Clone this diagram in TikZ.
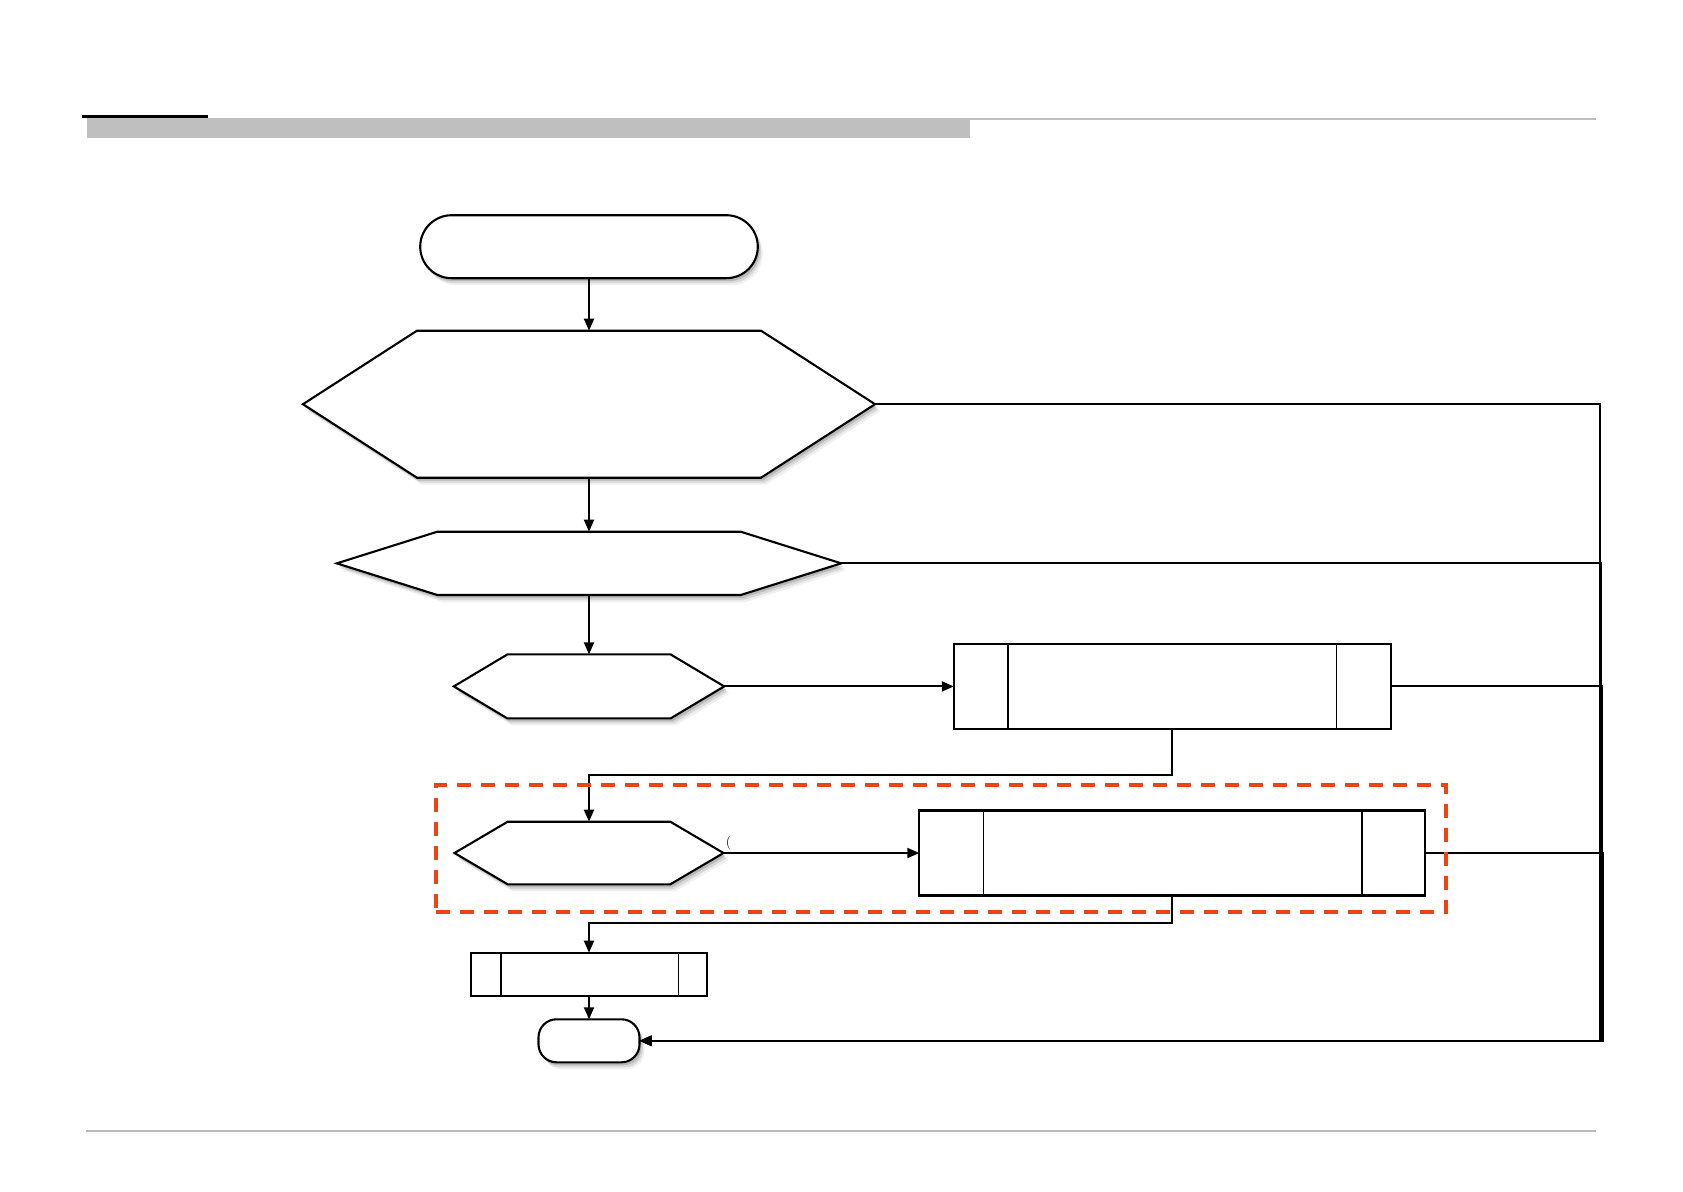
\documentclass[tikz,border=0pt]{standalone}
\usetikzlibrary{arrows.meta,calc,shadows}
\definecolor{dashred}{RGB}{238,68,20}
\definecolor{hdrgray}{RGB}{191,191,191}
\definecolor{ftrgray}{RGB}{185,185,185}
\tikzset{
  outl/.style={draw=black, line width=2.1pt, fill=white, line join=miter, inner sep=0pt, outer sep=0pt},
  shad/.style={
    drop shadow={shadow xshift=2pt, shadow yshift=-3pt, opacity=0.14, fill=black},
    drop shadow={shadow xshift=3.5pt, shadow yshift=-5pt, opacity=0.10, fill=black},
    drop shadow={shadow xshift=5pt, shadow yshift=-7pt, opacity=0.06, fill=black}},
  conn/.style={draw=black, line width=1.9pt},
  arr/.style={conn, -{Triangle[length=12pt,width=10pt]}},
  innerline/.style={draw=black, line width=1.5pt},
  grpbox/.style={draw=dashred, line width=3.6pt, dash pattern=on 14pt off 10pt, inner sep=0pt, outer sep=0pt},
}
\newcommand\myhex[2]{\draw[outl,shad] (#1.west) -- ($(#1.north west)+(#2,0)$) -- ($(#1.north east)-(#2,0)$) -- (#1.east) -- ($(#1.south east)-(#2,0)$) -- ($(#1.south west)+(#2,0)$) -- cycle;}
\newcommand\mybars[3]{\draw[innerline] ($(#1.north west)+(#2,0)$) -- ($(#1.south west)+(#2,0)$);
  \draw[innerline] ($(#1.north east)-(#3,0)$) -- ($(#1.south east)-(#3,0)$);}
\begin{document}
\begin{tikzpicture}[x=1pt,y=-1pt]
\useasboundingbox (0,0) rectangle (1683,1191);
% header and footer
\fill[black] (81.6,115) rectangle (208.2,118.2);
\fill[hdrgray] (87,118) rectangle (1596,120);
\fill[hdrgray] (87,118) rectangle (970.3,137.7);
\fill[ftrgray] (86,1130.3) rectangle (1596,1131.8);

% node frames (invisible, used for anchors)
\path node[minimum width=572.1pt, minimum height=147pt, inner sep=0pt, outer sep=0pt] (h1) at (589,404.2) {};
\path node[minimum width=504.4pt, minimum height=63.3pt, inner sep=0pt, outer sep=0pt] (h2) at (589,563.35) {};
\path node[minimum width=270.4pt, minimum height=64pt, inner sep=0pt, outer sep=0pt] (h3) at (589,686.4) {};
\path node[minimum width=269pt, minimum height=62.6pt, inner sep=0pt, outer sep=0pt] (h4) at (589,853) {};

% shapes
\node[outl, shad, rounded corners=31.5pt, minimum width=337.6pt, minimum height=63pt] (start) at (589,246.7) {};
\myhex{h1}{114}
\myhex{h2}{100.5}
\myhex{h3}{53.6}
\myhex{h4}{53.2}
\node[outl, minimum width=436.9pt, minimum height=84.7pt] (p1) at (1172.25,686.4) {};
\mybars{p1}{54}{54}
\node[outl, minimum width=505.7pt, minimum height=85pt] (p2) at (1172.15,853) {};
\mybars{p2}{64}{63}
\node[outl, minimum width=235.7pt, minimum height=43.3pt] (p3) at (589,974.35) {};
\mybars{p3}{30}{28.4}
\node[outl, shad, rounded corners=18pt, minimum width=101pt, minimum height=43pt] (e) at (589,1040.8) {};

% connectors
\draw[arr] (start.south) -- (h1.north);
\draw[arr] (h1.south) -- (h2.north);
\draw[arr] (h2.south) -- (h3.north);
\draw[arr] (h3.east) -- (p1.west);
\coordinate (j1) at (1172.25,775);
\draw[arr] (p1.south) -- (j1) -| (h4.north);
\draw[arr] (h4.east) -- (p2.west);
\coordinate (j2) at (1172.15,923.3);
\draw[arr] (p2.south) -- (j2) -| (p3.north);
\draw[arr] (p3.south) -- (e.north);
\coordinate (r1) at (1600,1040.8);
\coordinate (r2) at (1600.9,1040.8);
\coordinate (r3) at (1601.8,1040.8);
\coordinate (r4) at (1602.7,1040.8);
\draw[arr] (h1.east) -| (r1) -- (e.east);
\draw[arr] (h2.east) -| (r2) -- (e.east);
\draw[arr] (p1.east) -| (r3) -- (e.east);
\draw[arr] (p2.east) -| (r4) -- (e.east);

% dashed group
\node[grpbox, minimum width=1010pt, minimum height=126.7pt] (grp) at (941,848.35) {};

% small label
\node[font=\fontsize{14}{14}\selectfont, inner sep=0pt] (paren) at (728.5,843) {(};
\end{tikzpicture}
\end{document}
